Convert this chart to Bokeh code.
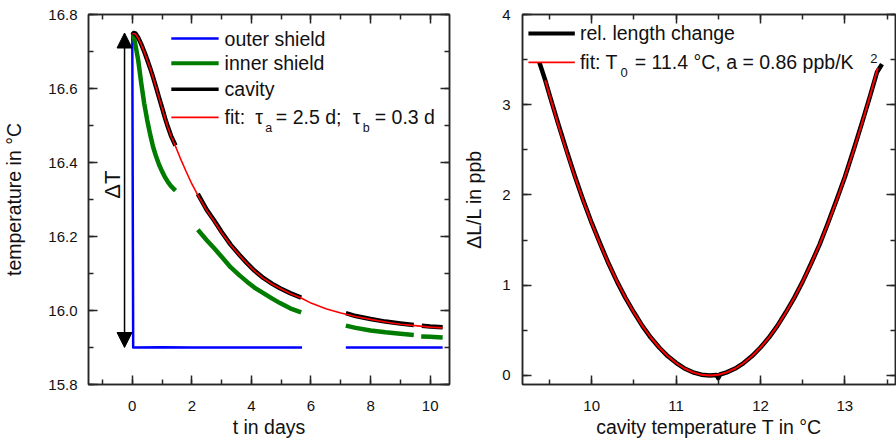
import numpy as np
from bokeh.plotting import figure
from bokeh.layouts import row
from bokeh.models import (Range1d, SingleIntervalTicker, LinearAxis, Arrow,
                          NormalHead, Label, PrintfTickFormatter)
from bokeh.embed import file_html
from bokeh.resources import INLINE

FONT = "Liberation Sans"
AX = "#262626"
nan = float("nan")

# ---------------- left panel: temperatures vs time (days) ----------------
outer_t = [0.0, 0.03, 1.0, 2.0, 3.2, 4.0, 5.7, nan, 7.17, 8.5, 10.42]
outer_T = [16.75, 15.90, 15.901, 15.90, 15.90, 15.90, 15.90, nan, 15.90, 15.90, 15.90]

inner_t = [0.0, 0.03, 0.1, 0.2, 0.3, 0.4, 0.5, 0.6, 0.7, 0.8, 0.9, 1.0, 1.1, 1.2, 1.3, 1.45,
           nan,
           2.2, 2.5, 2.75, 3.0, 3.3, 3.6, 3.85, 4.1, 4.4, 4.7, 4.96, 5.3, 5.67,
           nan,
           7.17, 7.5, 8.0, 8.5, 9.0, 9.45,
           nan,
           9.7, 10.0, 10.42]
inner_T = [16.75, 16.748, 16.72, 16.676, 16.615, 16.56, 16.515, 16.476, 16.442, 16.416, 16.394,
           16.376, 16.36, 16.347, 16.336, 16.324,
           nan,
           16.218, 16.19, 16.168, 16.145, 16.117, 16.095, 16.078, 16.062, 16.047, 16.032, 16.02,
           16.006, 15.995,
           nan,
           15.959, 15.953, 15.946, 15.941, 15.937, 15.934,
           nan,
           15.93, 15.929, 15.927]

cavity_t = [0.0, 0.05, 0.1, 0.2, 0.3, 0.4, 0.5, 0.6, 0.7, 0.8, 0.9, 1.0, 1.1, 1.2, 1.3, 1.45,
            nan,
            2.2, 2.5, 2.75, 3.0, 3.3, 3.6, 3.85, 4.1, 4.4, 4.7, 4.96, 5.3, 5.67,
            nan,
            7.17, 7.5, 8.0, 8.5, 9.0, 9.45,
            nan,
            9.72, 10.0, 10.42]
cavity_T = [16.745, 16.75, 16.749, 16.737, 16.72, 16.70, 16.678, 16.655, 16.63, 16.603, 16.575,
            16.548, 16.52, 16.495, 16.472, 16.446,
            nan,
            16.315, 16.272, 16.243, 16.212, 16.178, 16.15, 16.128, 16.108, 16.088, 16.072,
            16.06, 16.047, 16.035,
            nan,
            15.993, 15.985, 15.977, 15.97, 15.965, 15.961,
            nan,
            15.959, 15.957, 15.955]

fit_t = [0.0, 0.1, 0.2, 0.3, 0.4, 0.5, 0.6, 0.7, 0.8, 0.9, 1.0, 1.1, 1.2, 1.3, 1.45, 1.6, 1.8,
         2.0, 2.2, 2.5, 2.75, 3.0, 3.3, 3.6, 3.85, 4.1, 4.4, 4.7, 5.0, 5.3, 5.67, 6.0, 6.5,
         7.0, 7.5, 8.0, 8.5, 9.0, 9.5, 10.0, 10.42]
fit_T = [16.748, 16.748, 16.736, 16.719, 16.699, 16.677, 16.654, 16.629, 16.602, 16.574,
         16.547, 16.519, 16.494, 16.471, 16.444, 16.414, 16.377, 16.342, 16.312, 16.27,
         16.241, 16.21, 16.177, 16.149, 16.127, 16.107, 16.087, 16.071, 16.058, 16.046,
         16.034, 16.02, 16.005, 15.993, 15.984, 15.976, 15.969, 15.963, 15.959, 15.955, 15.953]

# ---------------- right panel: relative length change vs temperature ----------------
len_T = [9.38, 9.45, 9.5, 9.6, 9.7, 9.8, 9.9, 10.0, 10.1, 10.2, 10.3, 10.4, 10.5, 10.6, 10.7,
         10.8, 10.9, 11.0, 11.1, 11.2, 11.3, 11.4, 11.48, 11.5, 11.52, 11.6, 11.7, 11.8, 11.9,
         12.0, 12.1, 12.2, 12.3, 12.4, 12.5, 12.6, 12.7, 12.8, 12.9, 13.0, 13.1, 13.2, 13.3,
         13.38, 13.44]
len_dL = [3.47, 3.27, 3.11, 2.80, 2.50, 2.21, 1.94, 1.69, 1.46, 1.24, 1.04, 0.86, 0.70, 0.55,
          0.42, 0.31, 0.215, 0.14, 0.078, 0.035, 0.009, 0.0, 0.006, -0.03, 0.011, 0.034, 0.077,
          0.138, 0.215, 0.31, 0.42, 0.55, 0.70, 0.86, 1.04, 1.24, 1.45, 1.69, 1.94, 2.20, 2.49,
          2.79, 3.10, 3.36, 3.45]

pfit_T = [9.45, 9.5, 9.6, 9.7, 9.8, 9.9, 10.0, 10.1, 10.2, 10.3, 10.4, 10.5, 10.6, 10.7, 10.8,
          10.9, 11.0, 11.1, 11.2, 11.3, 11.4, 11.5, 11.6, 11.7, 11.8, 11.9, 12.0, 12.1, 12.2,
          12.3, 12.4, 12.5, 12.6, 12.7, 12.8, 12.9, 13.0, 13.1, 13.2, 13.3, 13.39]
pfit_dL = [3.27, 3.105, 2.786, 2.485, 2.202, 1.935, 1.686, 1.453, 1.238, 1.041, 0.86, 0.697,
           0.55, 0.421, 0.31, 0.215, 0.138, 0.077, 0.034, 0.009, 0.0, 0.009, 0.034, 0.077,
           0.138, 0.215, 0.31, 0.421, 0.55, 0.697, 0.86, 1.041, 1.238, 1.453, 1.686, 1.935,
           2.202, 2.485, 2.786, 3.105, 3.406]

BLUE = "#0000ff"
GREEN = "#007d00"
BLACK = "#000000"
RED = "#ff0000"


def style_axis(ax, interval, fmt, labels=True, standoff=10, label_standoff=5):
    ax.ticker = SingleIntervalTicker(interval=interval, num_minor_ticks=2)
    ax.formatter = PrintfTickFormatter(format=fmt)
    ax.axis_line_color = AX
    ax.axis_line_width = 1.5
    ax.major_tick_line_color = AX
    ax.major_tick_line_width = 1.5
    ax.minor_tick_line_color = AX
    ax.minor_tick_line_width = 1.5
    ax.major_tick_in = 9
    ax.major_tick_out = 0
    ax.minor_tick_in = 5
    ax.minor_tick_out = 0
    ax.major_label_text_font = FONT
    ax.major_label_text_font_size = "15px"
    ax.major_label_text_color = "#111111"
    ax.major_label_standoff = standoff
    ax.axis_label_text_font = FONT
    ax.axis_label_text_font_size = "19.5px"
    ax.axis_label_text_font_style = "normal"
    ax.axis_label_text_color = "#111111"
    ax.axis_label_standoff = label_standoff
    if not labels:
        ax.major_label_text_font_size = "0px"
        ax.major_label_text_color = None
        ax.major_label_standoff = 0
        ax.axis_label = None


def make_fig(width, xr, yr, bl, br):
    p = figure(width=width, height=440, output_backend="svg", toolbar_location=None,
               x_range=Range1d(*xr), y_range=Range1d(*yr),
               min_border_left=bl, min_border_right=br, min_border_top=14,
               min_border_bottom=56)
    p.grid.visible = False
    p.outline_line_color = AX
    p.outline_line_width = 1.5
    p.background_fill_color = "white"
    p.border_fill_color = "white"
    return p


def legend_line(p, x0, x1, y, color, width):
    p.add_layout(Arrow(x_start=x0, y_start=y, x_end=x1, y_end=y, start=None, end=None,
                       line_color=color, line_width=width))


def text(p, x, y, s, size="19.5px", angle=0.0, align="left"):
    p.add_layout(Label(x=x, y=y, text=s, text_font=FONT, text_font_size=size,
                       text_color="#111111", text_baseline="middle", text_align=align,
                       angle=angle))


# ======================= left figure =======================
p1 = make_fig(460, (-1.47, 10.65), (15.8, 16.8), 83, 11)
style_axis(p1.xaxis[0], 2, "%d", standoff=16, label_standoff=2)
style_axis(p1.yaxis[0], 0.2, "%.1f", standoff=11, label_standoff=20)
p1.xaxis.axis_label = "t in days"
p1.yaxis.axis_label = "temperature in °C"
top1 = LinearAxis()
right1 = LinearAxis()
p1.add_layout(top1, "above")
p1.add_layout(right1, "right")
style_axis(top1, 2, "%d", labels=False)
style_axis(right1, 0.2, "%.1f", labels=False)

p1.line(np.array(outer_t), np.array(outer_T), line_color=BLUE, line_width=2.5,
        line_join="round")
p1.line(np.array(inner_t), np.array(inner_T), line_color=GREEN, line_width=4.5,
        line_join="round")
p1.line(np.array(cavity_t), np.array(cavity_T), line_color=BLACK, line_width=4.5,
        line_join="round")
p1.line(np.array(fit_t), np.array(fit_T), line_color=RED, line_width=1.6,
        line_join="round")

# Delta T arrow between final outer-shield level and initial cavity level
arrow_x = -0.26
p1.add_layout(Arrow(x_start=arrow_x, y_start=float(np.nanmin(outer_T)),
                    x_end=arrow_x, y_end=float(np.nanmax(cavity_T)),
                    start=NormalHead(size=15, fill_color="black", line_color="black"),
                    end=NormalHead(size=15, fill_color="black", line_color="black"),
                    line_color="black", line_width=1.5))
text(p1, -0.66, 16.34, "ΔT", size="22px", angle=np.pi / 2, align="center")

# legend (left)
lx0, lx1, ltx = 1.31, 2.90, 3.10
rows_y = [16.735, 16.668, 16.598, 16.522]
sub_y = 16.492
legend_line(p1, lx0, lx1, rows_y[0], BLUE, 2.5)
legend_line(p1, lx0, lx1, rows_y[1], GREEN, 4)
legend_line(p1, lx0, lx1, rows_y[2], BLACK, 3.5)
legend_line(p1, lx0, lx1, rows_y[3], RED, 1.6)
text(p1, ltx, rows_y[0], "outer shield")
text(p1, ltx, rows_y[1], "inner shield")
text(p1, ltx, rows_y[2], "cavity")
text(p1, ltx, rows_y[3], "fit:")
text(p1, 4.13, rows_y[3], "τ")
text(p1, 4.46, sub_y, "a", size="12.5px")
text(p1, 4.82, rows_y[3], "= 2.5 d;")
text(p1, 7.40, rows_y[3], "τ")
text(p1, 7.74, sub_y, "b", size="12.5px")
text(p1, 8.14, rows_y[3], "= 0.3 d")

# ======================= right figure =======================
p2 = make_fig(436, (9.18, 13.60), (-0.1, 4.0), 57, 1)
style_axis(p2.xaxis[0], 1, "%d", standoff=16, label_standoff=2)
style_axis(p2.yaxis[0], 1, "%d", standoff=12, label_standoff=14)
p2.xaxis.axis_label = "cavity temperature T in °C"
p2.yaxis.axis_label = "ΔL/L in ppb"
top2 = LinearAxis()
right2 = LinearAxis()
p2.add_layout(top2, "above")
p2.add_layout(right2, "right")
style_axis(top2, 1, "%d", labels=False)
style_axis(right2, 1, "%d", labels=False)

p2.line(np.array(len_T), np.array(len_dL), line_color=BLACK, line_width=4.5,
        line_join="round")
p2.line(np.array(pfit_T), np.array(pfit_dL), line_color=RED, line_width=2,
        line_join="round")

# legend (right)
rx0, rx1, rtx = 9.25, 9.80, 9.86
legend_line(p2, rx0, rx1, 3.79, BLACK, 4)
legend_line(p2, rx0, rx1, 3.47, RED, 1.6)
text(p2, rtx, 3.79, "rel. length change")
text(p2, rtx, 3.47, "fit: T")
text(p2, 10.34, 3.36, "0", size="13px")
text(p2, 10.51, 3.47, "= 11.4 °C, a = 0.86 ppb/K")
text(p2, 13.30, 3.51, "2", size="13px")

layout = row(p1, p2)
open("out.html", "w").write(file_html(layout, INLINE))
